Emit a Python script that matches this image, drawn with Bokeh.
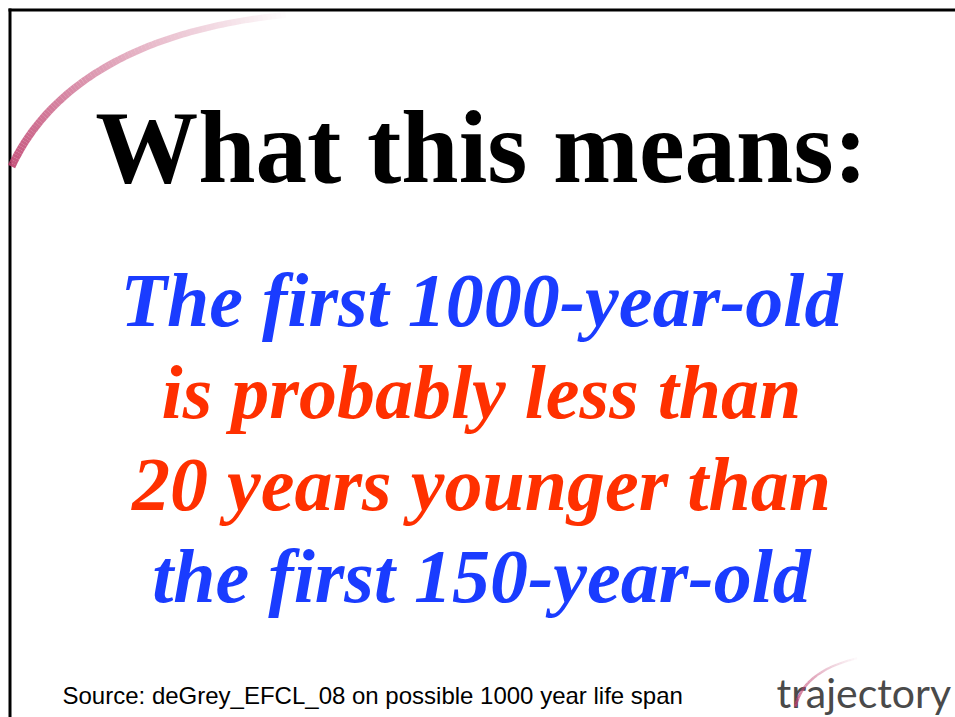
import numpy as np
from bokeh.plotting import figure
from bokeh.models import Range1d
from bokeh.core.properties import value
from bokeh.embed import file_html
from bokeh.resources import INLINE

# ---- content ----
title_text = ["What this means:"]
body_lines = ["The first 1000-year-old",
              "is probably less than",
              "20 years younger than",
              "the first 150-year-old"]
body_colors = ["#1a3cff", "#ff3000", "#ff3000", "#1a3cff"]
source_text = ["Source: deGrey_EFCL_08 on possible 1000 year life span"]
logo_text = ["trajectory"]

# ---- layout (picture-pixel coordinates) ----
W, H = 955, 717
center_x = 481
title_size, body_size, source_size, logo_size = 103, 76, 24, 41
title_baseline = 183
body_baselines = [326, 418, 510, 602]
source_baseline = 703
logo_baseline = 706
shift = 0.35  # renderer places alphabetic baseline ~0.35em low


def yb(base, size):
    return base - shift * size


p = figure(width=W, height=H, output_backend="svg", toolbar_location=None,
           x_range=Range1d(0, W), y_range=Range1d(H, 0),
           min_border=0, outline_line_color=None)
p.axis.visible = False
p.grid.visible = False
p.background_fill_color = "white"
p.border_fill_color = "white"

# slide frame (left and top edges)
p.quad(left=[8, 8], right=[11, W], top=[8, 8], bottom=[H, 11],
       fill_color="black", line_color=None)


def bezier_pts(p0, p1, p2, p3, n):
    t = np.linspace(0, 1, n)[:, None]
    pts = ((1 - t) ** 3) * np.array(p0) + 3 * ((1 - t) ** 2) * t * np.array(p1) \
        + 3 * (1 - t) * t ** 2 * np.array(p2) + t ** 3 * np.array(p3)
    return pts


def fading_arc(p0, p1, p2, p3, n, w0, w1, a0):
    pts = bezier_pts(p0, p1, p2, p3, n + 1)
    xs = [[pts[i, 0], pts[i + 1, 0]] for i in range(n)]
    ys = [[pts[i, 1], pts[i + 1, 1]] for i in range(n)]
    tt = np.linspace(0, 1, n)
    alphas = list(a0 * (1 - tt) ** 0.9)
    widths = list(w0 + (w1 - w0) * tt)
    p.multi_line(xs=xs, ys=ys, line_color="#c04470", line_alpha=alphas,
                 line_width=widths, line_cap="butt")


# decorative swoosh, top-left
fading_arc((11, 166), (51, 80), (147, 27), (290, 14), 90, 8, 6, 0.9)

# title
p.text(x=[center_x], y=[yb(title_baseline, title_size)], text=title_text,
       text_font=value("Liberation Serif"), text_font_style="bold",
       text_font_size=f"{title_size}px", text_color="black",
       text_align="center", text_baseline="alphabetic")

# body lines
p.text(x=[center_x] * len(body_lines),
       y=[yb(b, body_size) for b in body_baselines], text=body_lines,
       text_font=value("Liberation Serif"), text_font_style="bold italic",
       text_font_size=f"{body_size}px", text_color=body_colors,
       text_align="center", text_baseline="alphabetic")

# source
p.text(x=[62], y=[yb(source_baseline, source_size)], text=source_text,
       text_font=value("Liberation Sans"), text_font_size=f"{source_size}px",
       text_color="black", text_align="left", text_baseline="alphabetic")

# logo
p.text(x=[776], y=[yb(logo_baseline, logo_size)], text=logo_text,
       text_font=value("Lato"), text_font_size=f"{logo_size}px",
       text_color="#4a4a4a", text_align="left", text_baseline="alphabetic")
fading_arc((795, 706), (799, 688), (814, 667), (860, 657), 40, 3, 2, 0.9)

open("out.html", "w").write(file_html(p, INLINE))
